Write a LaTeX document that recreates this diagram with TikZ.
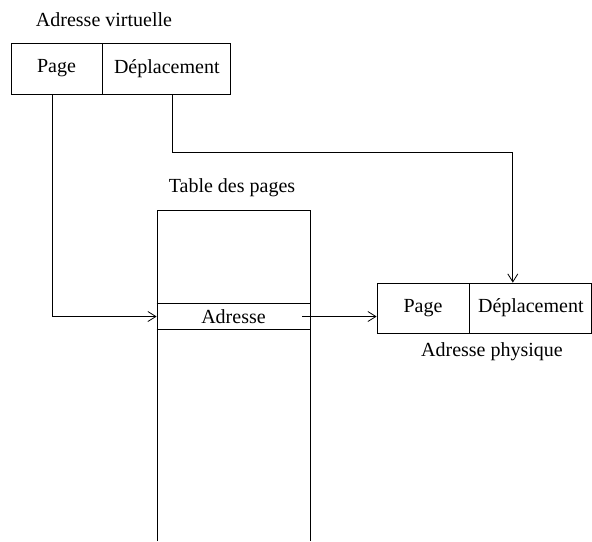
\documentclass[tikz,border=0pt]{standalone}
\usepackage{fontspec}
\setmainfont{Liberation Serif}
\usetikzlibrary{arrows.meta,positioning}

\begin{document}
\begin{tikzpicture}[x=0.5pt, y=-0.5pt, font=\fontsize{10}{12}\selectfont,
  cell/.style={draw,thin,minimum height=25.5pt,inner sep=0pt},
  lbl/.style={inner sep=1pt},
  arr/.style={-{Straight Barb[length=4pt,width=5pt]},thin}
]
\useasboundingbox (0,0) rectangle (592,541);

% adresse virtuelle
\node[cell,minimum width=45.5pt] (vpage) at (56.5,68.5) {Page};
\node[cell,minimum width=64pt,right=0pt of vpage] (vdep) {Déplacement};
\node[lbl] (vlbl) at (104,20) {Adresse virtuelle};

% table des pages
\node[lbl] (tlbl) at (232,188) {Table des pages};
\draw[thin] (157,541) -- (157,210) -- (310,210) -- (310,541);
\node[minimum width=76.5pt,minimum height=12.5pt,inner sep=0pt] (adr) at (233.5,316.5) {Adresse};
\draw[semithick] (adr.north west) -- (adr.north east);
\draw[semithick] (adr.south west) -- (adr.south east);

% adresse physique
\node[cell,minimum width=46pt,minimum height=25pt] (ppage) at (423,308) {Page};
\node[cell,minimum width=61pt,minimum height=25pt,right=0pt of ppage] (pdep) {Déplacement};
\node[lbl] (plbl) at (492,352) {Adresse physique};

\draw[arr] ([xshift=-2pt]vpage.south) |- (adr.west);
\draw[arr] ([xshift=3pt]vdep.south) -- ++(0,58) -| ([xshift=-9pt]pdep.north);
\draw[arr] ([xshift=-4pt]adr.east) -- (adr.east -| ppage.west);
\end{tikzpicture}
\end{document}
